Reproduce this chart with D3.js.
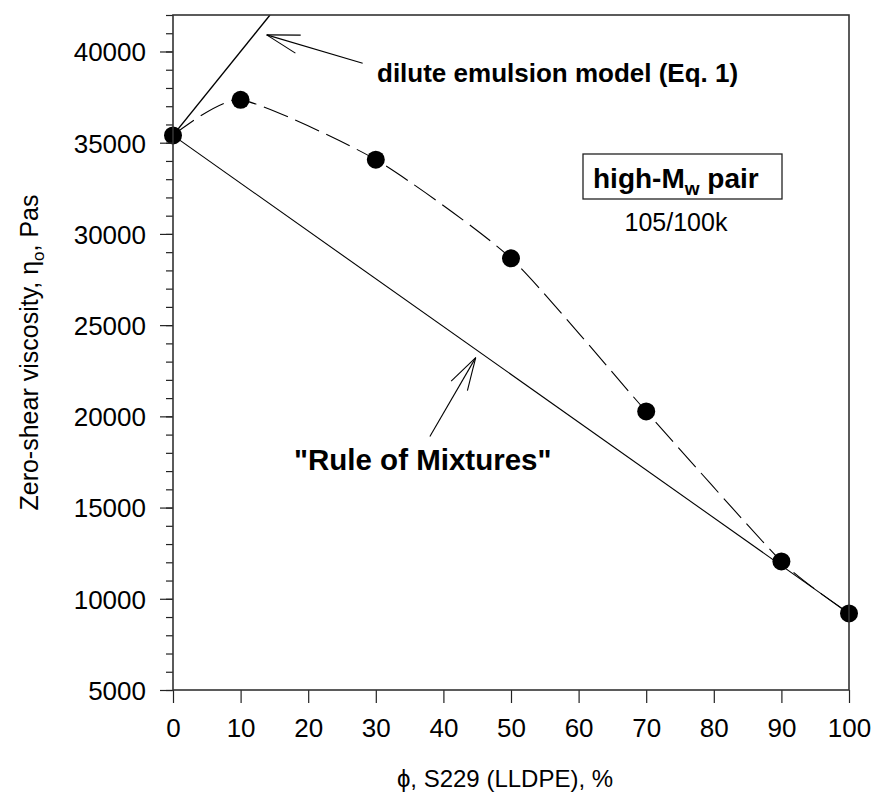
<!DOCTYPE html>
<html>
<head>
<meta charset="utf-8">
<script src="https://cdn.jsdelivr.net/npm/d3@7"></script>
<style>
  body { margin: 0; background: #fff; }
  svg text { font-family: "Liberation Sans", Arial, sans-serif; fill: #000; }
</style>
</head>
<body>
<svg id="chart" width="875" height="802"></svg>
<script>
// measured blend data (phi %, zero-shear viscosity Pas)
const phi = [0, 10, 30, 50, 70, 90, 100];
const eta0 = [35400, 37350, 34070, 28660, 20270, 12050, 9200];

// model lines
const ruleOfMixtures = [[0, 35400], [100, 9200]];
const diluteModel = [[0, 35400], [14.35, 42000]];

const xTicks = [0, 10, 20, 30, 40, 50, 60, 70, 80, 90, 100];
const yTicks = [5000, 10000, 15000, 20000, 25000, 30000, 35000, 40000];
const yMinor = d3.range(5000, 42001, 1000);

// annotation arrows: [tail, tip] in data units
const arrowDilute = [[28.06, 39360], [13.86, 40910]];
const arrowRule = [[38.0, 18900], [44.78, 23220]];

const margin = {left: 173, right: 26, top: 15, bottom: 112};
const width = 875, height = 802;

const svg = d3.select("#chart");

const x = d3.scaleLinear().domain([0, 100]).range([margin.left, width - margin.right]);
const y = d3.scaleLinear().domain([5000, 42000]).range([height - margin.bottom, margin.top]);

const plot = svg.append("g");

svg.append("defs").append("clipPath").attr("id", "clip")
  .append("rect")
  .attr("x", x(0)).attr("y", y(42000))
  .attr("width", x(100) - x(0)).attr("height", y(5000) - y(42000));

// minor y ticks
svg.append("g")
  .attr("transform", `translate(${x(0)},0)`)
  .call(d3.axisLeft(y).tickValues(yMinor).tickSize(7).tickFormat(""))
  .call(g => g.select(".domain").remove())
  .selectAll("line").attr("stroke", "#222").attr("stroke-width", 1.2);

// major y ticks
const yAxis = svg.append("g")
  .attr("transform", `translate(${x(0)},0)`)
  .call(d3.axisLeft(y).tickValues(yTicks).tickSize(13).tickPadding(14).tickFormat(d3.format("d")));
yAxis.select(".domain").remove();
yAxis.selectAll("line").attr("stroke", "#222").attr("stroke-width", 1.2);
yAxis.selectAll("text").style("font-size", "26px").attr("dy", "0.36em");

// x ticks
const xAxis = svg.append("g")
  .attr("transform", `translate(0,${y(5000)})`)
  .call(d3.axisBottom(x).tickValues(xTicks).tickSize(13).tickPadding(16));
xAxis.select(".domain").remove();
xAxis.selectAll("line").attr("stroke", "#222").attr("stroke-width", 1.2);
xAxis.selectAll("text").style("font-size", "26px");

// frame
svg.append("rect")
  .attr("x", x(0)).attr("y", y(42000))
  .attr("width", x(100) - x(0)).attr("height", y(5000) - y(42000))
  .attr("fill", "none").attr("stroke", "#333").attr("stroke-width", 1.6);

const line = d3.line().x(d => x(d[0])).y(d => y(d[1]));

// rule of mixtures
plot.append("path").datum(ruleOfMixtures)
  .attr("d", line).attr("fill", "none").attr("stroke", "#000").attr("stroke-width", 1.1);

// dilute emulsion model
plot.append("path").datum(diluteModel)
  .attr("clip-path", "url(#clip)")
  .attr("d", line).attr("fill", "none").attr("stroke", "#000").attr("stroke-width", 1.4);

// dashed curve through the data
const pts = phi.map((p, i) => [p, eta0[i]]);
plot.append("path").datum(pts)
  .attr("d", d3.line().x(d => x(d[0])).y(d => y(d[1])).curve(d3.curveCardinal.tension(0.4)))
  .attr("fill", "none").attr("stroke", "#000").attr("stroke-width", 1.1)
  .attr("stroke-dasharray", "26,8");

plot.selectAll("circle.pt").data(pts).join("circle")
  .attr("class", "pt")
  .attr("cx", d => x(d[0])).attr("cy", d => y(d[1]))
  .attr("r", 9).attr("fill", "#000");

// arrows with open heads
function drawArrow(a) {
  const t = [x(a[0][0]), y(a[0][1])];
  const h = [x(a[1][0]), y(a[1][1])];
  const ang = Math.atan2(t[1] - h[1], t[0] - h[0]);
  const len = 34, spread = 16 * Math.PI / 180;
  const g = plot.append("g").attr("stroke", "#000").attr("stroke-width", 1.1).attr("fill", "none");
  g.append("line").attr("x1", t[0]).attr("y1", t[1]).attr("x2", h[0]).attr("y2", h[1]);
  [-spread, spread].forEach(s => {
    g.append("line").attr("x1", h[0]).attr("y1", h[1])
      .attr("x2", h[0] + len * Math.cos(ang + s)).attr("y2", h[1] + len * Math.sin(ang + s));
  });
}
drawArrow(arrowDilute);
drawArrow(arrowRule);

// labels
svg.append("text").attr("x", 377).attr("y", 82)
  .style("font-size", "26px").style("font-weight", "bold")
  .text("dilute emulsion model (Eq. 1)");

svg.append("text").attr("x", 294).attr("y", 470)
  .style("font-size", "29.5px").style("font-weight", "bold")
  .text("\"Rule of Mixtures\"");

svg.append("rect").attr("x", 583).attr("y", 154).attr("width", 199).attr("height", 45)
  .attr("fill", "none").attr("stroke", "#222").attr("stroke-width", 1.3);
const hm = svg.append("text").attr("x", 593).attr("y", 188)
  .style("font-size", "28px").style("font-weight", "bold");
hm.append("tspan").text("high-M");
hm.append("tspan").attr("dy", 7).style("font-size", "19px").text("w");
hm.append("tspan").attr("dy", -7).text(" pair");

svg.append("text").attr("x", 676).attr("y", 231).attr("text-anchor", "middle")
  .style("font-size", "25px").text("105/100k");

// axis titles
svg.append("text").attr("x", x(50) - 6).attr("y", 787).attr("text-anchor", "middle")
  .style("font-size", "24px").text("ϕ, S229 (LLDPE), %");

const yt = svg.append("text")
  .attr("transform", `translate(38,${(y(5000) + y(42000)) / 2}) rotate(-90)`)
  .attr("text-anchor", "middle").style("font-size", "25px");
yt.append("tspan").text("Zero-shear viscosity, η");
yt.append("tspan").attr("dy", 6).style("font-size", "17px").text("o");
yt.append("tspan").attr("dy", -6).text(", Pas");
</script>
</body>
</html>
